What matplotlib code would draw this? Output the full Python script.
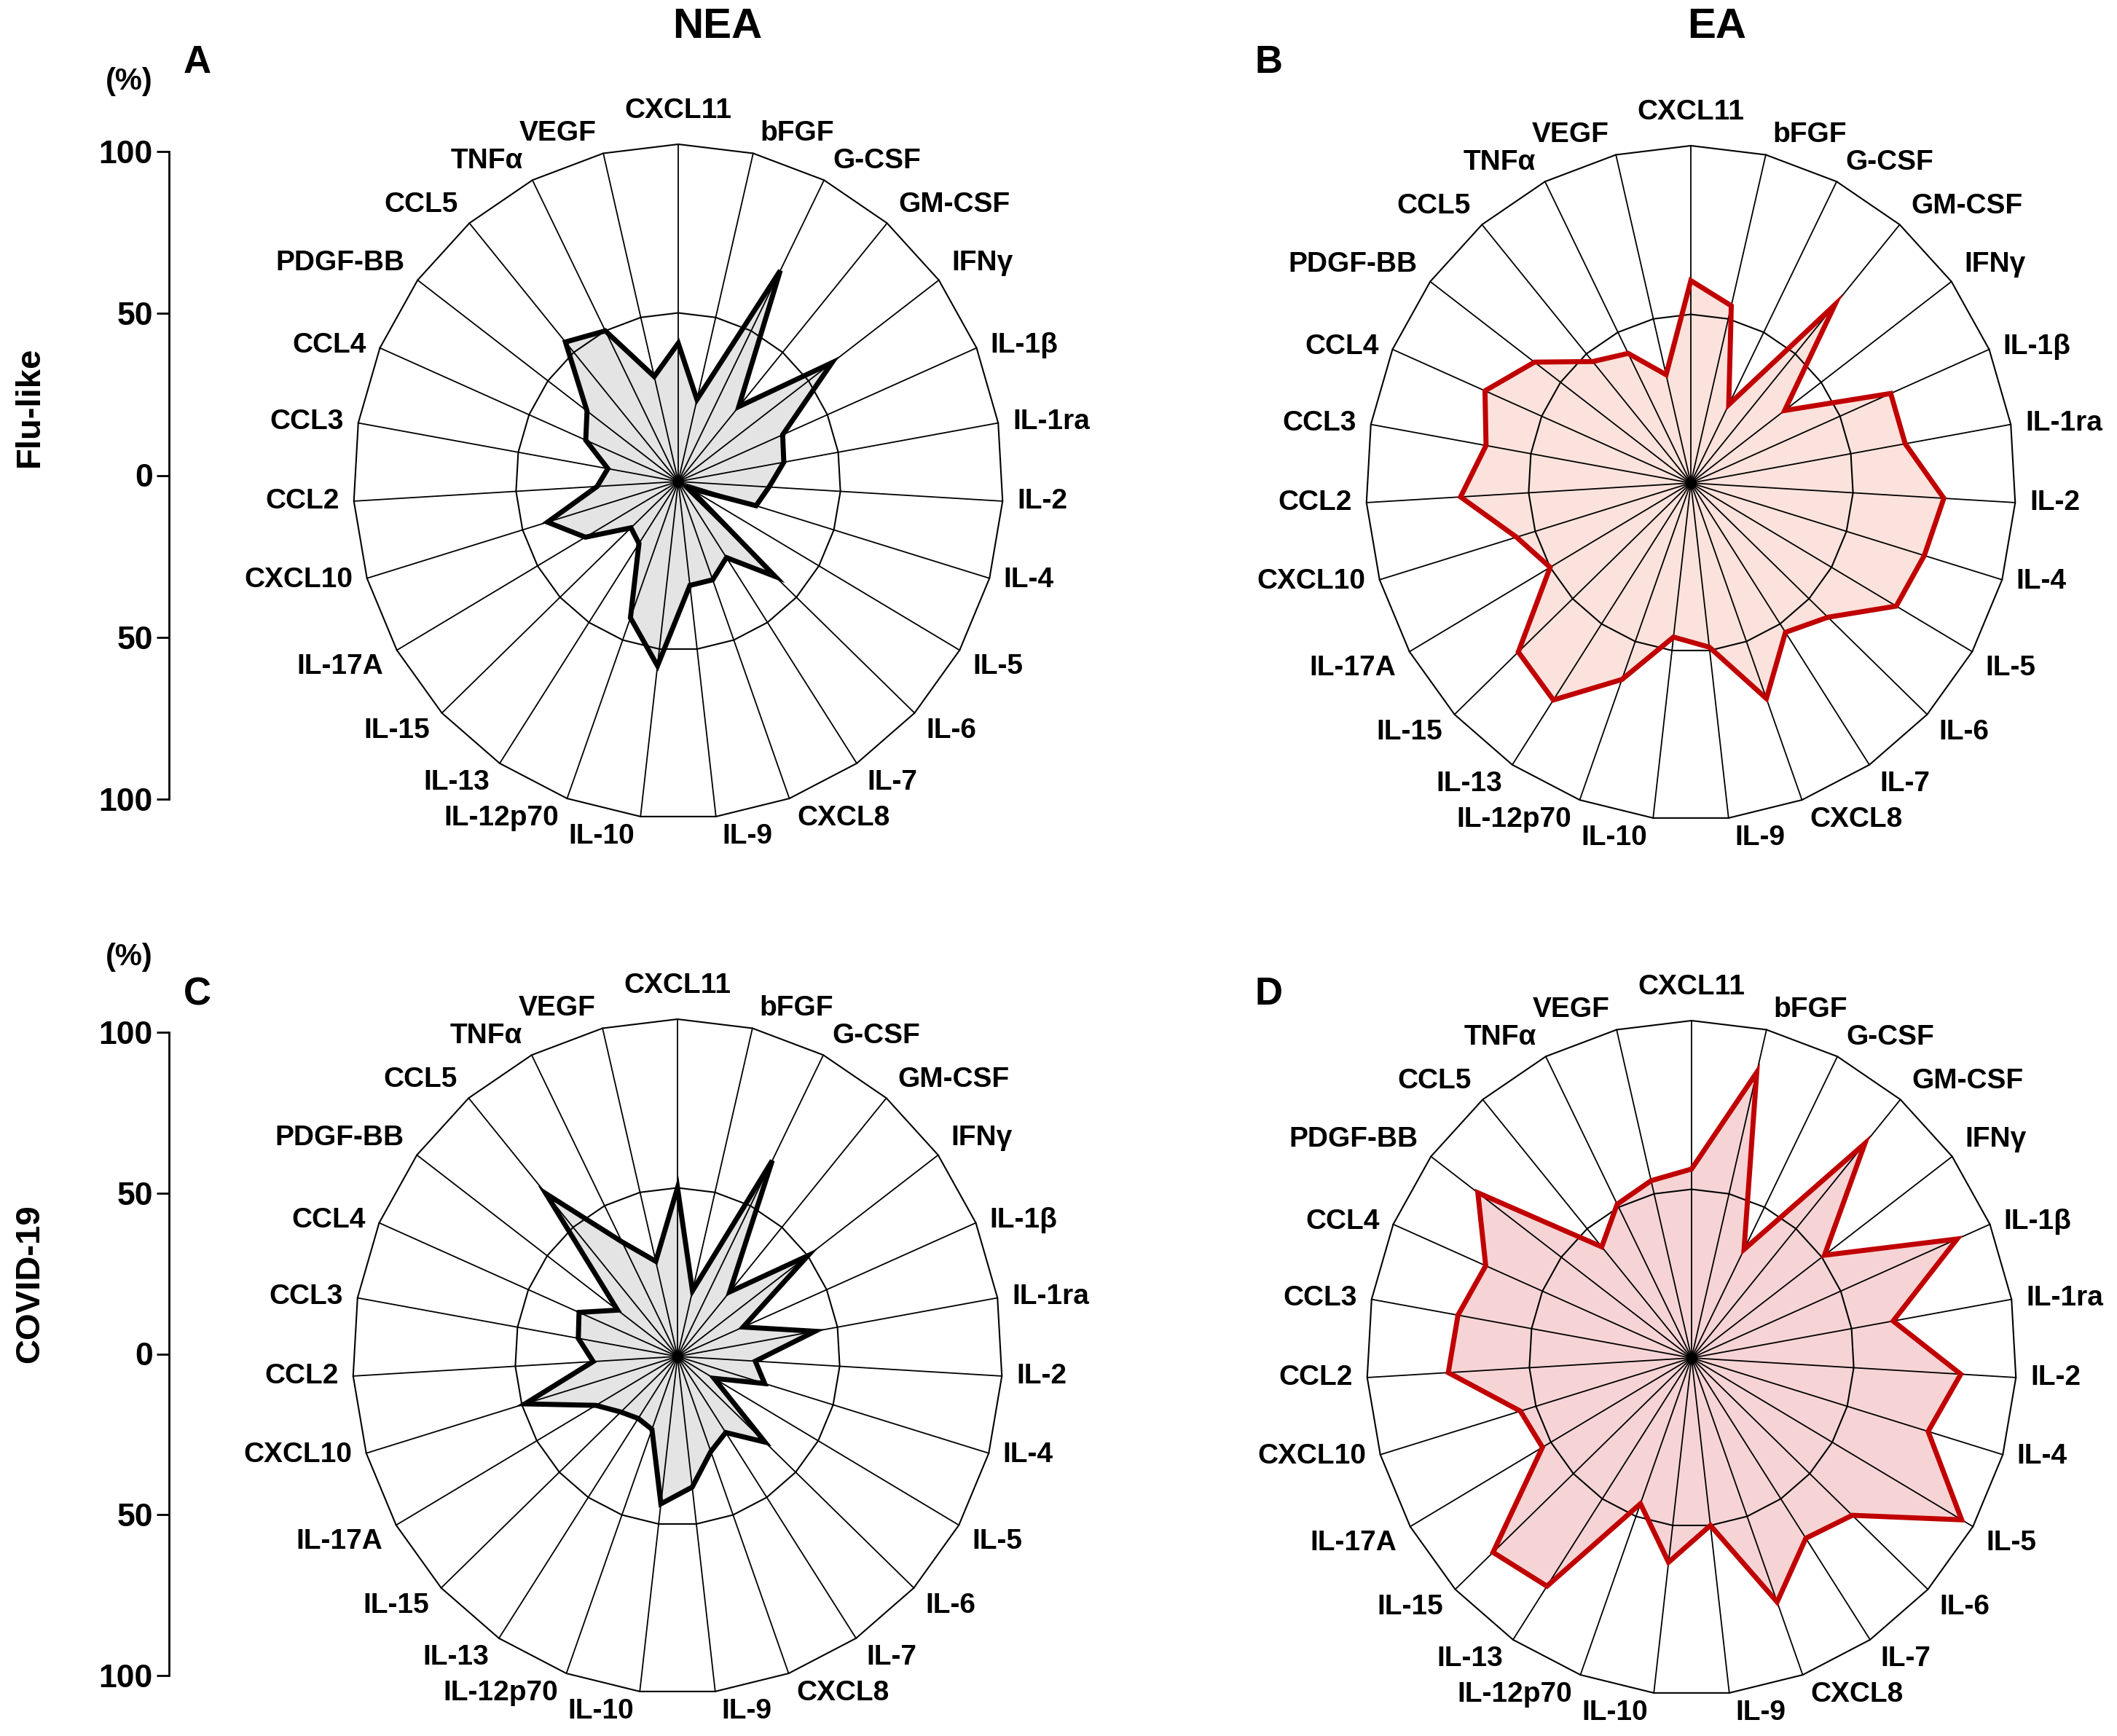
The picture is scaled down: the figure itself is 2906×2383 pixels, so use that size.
"""Radar charts of cytokine levels: NEA vs EA, Flu-like vs COVID-19."""

import numpy as np
import matplotlib.pyplot as plt
from matplotlib.patches import Polygon

plt.rcParams["font.family"] = ["Liberation Sans", "DejaVu Sans"]
plt.rcParams["font.weight"] = "bold"

# Data (% of max), clockwise from top
cytokines = [
    "CXCL11", "bFGF", "G-CSF", "GM-CSF", "IFNγ", "IL-1β", "IL-1ra", "IL-2",
    "IL-4", "IL-5", "IL-6", "IL-7", "CXCL8", "IL-9", "IL-10", "IL-12p70",
    "IL-13", "IL-15", "IL-17A", "CXCL10", "CCL2", "CCL3", "CCL4", "PDGF-BB",
    "CCL5", "TNFα", "VEGF",
]
flu_nea = [41, 25, 70, 29, 59, 35, 33, 28, 25, 4, 41, 27, 31, 31, 55, 43,
           22, 20, 33, 42, 25, 22, 31, 35, 54, 50, 32]
flu_ea = [60, 54, 26, 69, 36, 67, 67, 78, 75, 73, 58, 53, 68, 49, 46, 62,
          77, 73, 50, 56, 71, 64, 69, 60, 47, 43, 33]
covid_nea = [50, 20, 65, 25, 50, 22, 43, 24, 28, 13, 37, 27, 30, 39, 44, 23,
             22, 24, 29, 49, 26, 31, 33, 23, 63, 38, 29]
covid_ea = [56, 87, 36, 83, 51, 89, 63, 83, 76, 96, 68, 64, 77, 50, 61, 46,
            81, 84, 53, 55, 75, 73, 69, 82, 43, 51, 54]

scale_ticks = [100, 50, 0, -50, -100]
scale_labels = ["100", "50", "0", "50", "100"]

# Colours
C_RED = "#c00000"
C_GREY_FILL = "#e4e4e4"
C_EA_FLU = "#fbe2dc"
C_EA_COV = "#f6d4d5"

W, H = 2906, 2383
fig = plt.figure(figsize=(W / 200, H / 200), dpi=200)


def px_rect(x0, y0, w, h):
    return [x0 / W, 1 - (y0 + h) / H, w / W, h / H]


RX, RY = 446, 463  # radius of 100 % ring in pixels
K = 1.35
LABEL_FS = 14


def radar(cx, cy, values, edge, face):
    ax = fig.add_axes(px_rect(cx - K * RX, cy - K * RY, 2 * K * RX, 2 * K * RY))
    ax.set_xlim(-K, K)
    ax.set_ylim(-K, K)
    ax.axis("off")
    ax.patch.set_alpha(0)

    n = len(cytokines)
    ang = np.arange(n) * 2 * np.pi / n
    ux, uy = np.sin(ang), np.cos(ang)
    r = np.array(values) / 100.0
    pts = np.column_stack([r * ux, r * uy])

    ax.add_patch(Polygon(pts, closed=True, facecolor=face, edgecolor="none", zorder=1))
    for x, y in zip(ux, uy):
        ax.plot([0, x], [0, y], color="black", lw=0.65, zorder=2)
    for ring in (0.5, 1.0):
        ax.add_patch(Polygon(np.column_stack([ring * ux, ring * uy]), closed=True,
                             fill=False, edgecolor="black", lw=0.75, zorder=2))
    ax.add_patch(Polygon(pts, closed=True, fill=False, edgecolor=edge, lw=2.5,
                         joinstyle="miter", zorder=3))
    ax.plot(0, 0, "o", color="black", ms=4.5, zorder=4)

    for name, s, c in zip(cytokines, ux, uy):
        if abs(s) < 0.05:
            ax.text(0, 1.06, name, ha="center", va="bottom", fontsize=LABEL_FS)
            continue
        ha = "left" if s > 0 else "right"
        va = "bottom" if c > 0.45 else ("top" if c < -0.45 else "center")
        ax.text(1.03 * s + 0.015 * np.sign(s), 1.02 * c, name, ha=ha, va=va,
                fontsize=LABEL_FS)
    return ax


def scale_bar(top, bottom):
    ax = fig.add_axes(px_rect(232, top, 1, bottom - top))
    ax.set_ylim(-100, 100)
    ax.set_xlim(0, 1)
    for side in ("top", "right", "bottom"):
        ax.spines[side].set_visible(False)
    ax.spines["left"].set_linewidth(1.0)
    ax.set_xticks([])
    ax.set_yticks(scale_ticks)
    ax.set_yticklabels(scale_labels, fontsize=16, fontweight="bold")
    ax.tick_params(axis="y", length=6, width=1.0, pad=2)
    ax.patch.set_alpha(0)


radar(931, 661, flu_nea, "black", C_GREY_FILL)
radar(2321, 663, flu_ea, C_RED, C_EA_FLU)
radar(930, 1862, covid_nea, "black", C_GREY_FILL)
radar(2322, 1864, covid_ea, C_RED, C_EA_COV)

scale_bar(208, 1097)
scale_bar(1417, 2300)


def ftext(x, y, s, **kw):
    fig.text(x / W, 1 - y / H, s, ha="center", va="center", fontweight="bold", **kw)


ftext(985, 37, "NEA", fontsize=21)
ftext(2357, 37, "EA", fontsize=21)
ftext(271, 86, "A", fontsize=19)
ftext(1742, 86, "B", fontsize=19)
ftext(271, 1365, "C", fontsize=19)
ftext(1742, 1365, "D", fontsize=19)
ftext(177, 112, "(%)", fontsize=15)
ftext(177, 1314, "(%)", fontsize=15)
ftext(41, 558, "Flu-like", fontsize=17, rotation=90)
ftext(41, 1762, "COVID-19", fontsize=17, rotation=90)

fig.savefig("out.png", dpi=200, facecolor="white")
